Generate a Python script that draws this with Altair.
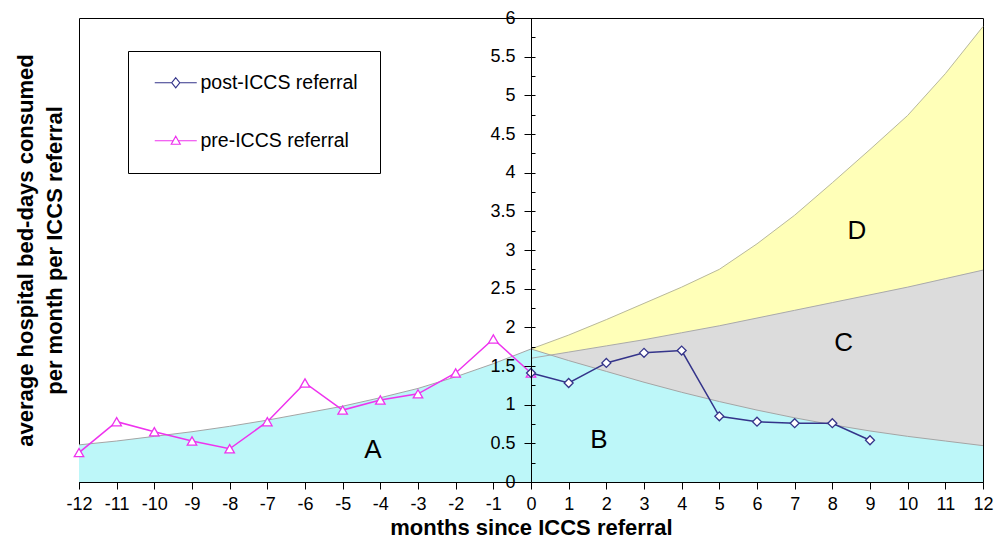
import altair as alt
import pandas as pd

# ---- data ----
pre_months = [-12, -11, -10, -9, -8, -7, -6, -5, -4, -3, -2, -1, 0]
pre_values = [0.38, 0.78, 0.65, 0.53, 0.43, 0.78, 1.28, 0.93, 1.06, 1.14, 1.41, 1.85, 1.41]

post_months = [0, 1, 2, 3, 4, 5, 6, 7, 8, 9]
post_values = [1.41, 1.28, 1.54, 1.67, 1.70, 0.85, 0.78, 0.76, 0.76, 0.54]

cyan_months = [-12, -11, -10, -9, -8, -7, -6, -5, -4, -3, -2, -1, 0,
               1, 2, 3, 4, 5, 6, 7, 8, 9, 10, 11, 12]
cyan_top = [0.48, 0.53, 0.59, 0.65, 0.72, 0.80, 0.89, 0.98, 1.09, 1.21, 1.36, 1.53, 1.72,
            1.57, 1.43, 1.29, 1.16, 1.04, 0.93, 0.83, 0.74, 0.66, 0.59, 0.53, 0.47]

band_months = [0, 1, 2, 3, 4, 5, 6, 7, 8, 9, 10, 11, 12]
grey_top = [1.60, 1.68, 1.76, 1.84, 1.93, 2.02, 2.12, 2.22, 2.32, 2.42, 2.52, 2.63, 2.74]
yellow_top = [1.72, 1.90, 2.10, 2.31, 2.52, 2.75, 3.08, 3.45, 3.87, 4.30, 4.74, 5.28, 5.89]

region_labels = ["A", "B", "C", "D"]
region_x = [-4.2, 1.8, 8.3, 8.65]
region_y = [0.41, 0.54, 1.80, 3.24]

series_names = ["post-ICCS referral", "pre-ICCS referral"]
series_colors = ["#34348A", "#EE33EE"]

x_tick_values = [-12, -11, -10, -9, -8, -7, -6, -5, -4, -3, -2, -1, 0,
                 1, 2, 3, 4, 5, 6, 7, 8, 9, 10, 11, 12]
y_tick_values = [0, 0.5, 1, 1.5, 2, 2.5, 3, 3.5, 4, 4.5, 5, 5.5, 6]
y_minor_values = [0.25, 0.5, 0.75, 1, 1.25, 1.5, 1.75, 2, 2.25, 2.5, 2.75, 3, 3.25,
                  3.5, 3.75, 4, 4.25, 4.5, 4.75, 5, 5.25, 5.5, 5.75]

# legend symbols: line with marker (custom SVG paths)
legend_paths = [
    "M-1,0L2.4,0M4,0L7.4,0M3.2,-1L4,0L3.2,1L2.4,0Z",
    "M-1,0L2.69,0M3.71,0L7.4,0M3.2,-0.9L4.1,0.7L2.3,0.7Z",
]

FONT = "Liberation Sans"

# ---- tables ----
pre_df = pd.DataFrame({"month": pre_months, "value": pre_values})
post_df = pd.DataFrame({"month": post_months, "value": post_values})
cyan_df = pd.DataFrame({"month": cyan_months, "top": cyan_top})
band_df = pd.DataFrame({"month": band_months, "grey": grey_top, "yellow": yellow_top})
lab_df = pd.DataFrame({"label": region_labels, "x": region_x, "y": region_y})
leg_df = pd.DataFrame({"series": series_names, "month": [0, 0], "value": [0, 0]})

xs = alt.Scale(domain=[-12, 12], nice=False)
ys = alt.Scale(domain=[0, 6], nice=False)

def X(field):
    return alt.X(field, type="quantitative", scale=xs, axis=None)

def Y(field):
    return alt.Y(field, type="quantitative", scale=ys, axis=None)

main_x_axis = alt.Axis(
    orient="bottom",
    values=x_tick_values, labelExpr="'' + datum.value", labelFont=FONT, labelFontSize=18,
    labelColor="black", labelPadding=6, labelFlush=False, labelOverlap=False,
    tickSize=7, tickColor="black", domainColor="black", grid=False,
    title="months since ICCS referral", titleFont=FONT, titleFontSize=22,
    titleFontWeight="bold", titleColor="black", titlePadding=4, zindex=1,
)
main_y_axis = alt.Axis(
    orient="left", offset=-452, values=y_tick_values, format="~g",
    labelFont=FONT, labelFontSize=18, labelColor="black", labelPadding=9,
    labelFlush=False, labelOverlap=False,
    tickSize=7, tickColor="black", domainColor="black", grid=False,
    title=["average hospital bed-days consumed", "per month per ICCS referral"],
    titleFont=FONT, titleFontSize=22, titleFontWeight="bold", titleColor="black",
    titleX=-494, titleY=232, titleLineHeight=29, titleBaseline="bottom", zindex=1,
)
minor_y_axis = alt.Axis(
    orient="right", offset=-452, values=y_minor_values, labels=False, domain=False,
    tickSize=4, tickColor="black", grid=False, title="", zindex=1,
)

yellow = alt.Chart(band_df).mark_area(color="#FFFFB8").encode(x=X("month"), y=Y("yellow"))
yellow_line = alt.Chart(band_df).mark_line(color="#B9B99C", strokeWidth=1).encode(x=X("month"), y=Y("yellow"))
grey = alt.Chart(band_df).mark_area(color="#DCDCDC").encode(x=X("month"), y=Y("grey"))
grey_line = alt.Chart(band_df).mark_line(color="#AAAAAA", strokeWidth=1).encode(x=X("month"), y=Y("grey"))
cyan = alt.Chart(cyan_df).mark_area(color="#BDF7F9").encode(x=X("month"), y=Y("top"))
cyan_line = alt.Chart(cyan_df).mark_line(color="#A5A5A5", strokeWidth=1).encode(x=X("month"), y=Y("top"))

labels = alt.Chart(lab_df).mark_text(
    font=FONT, fontSize=26, color="black", align="center", baseline="middle"
).encode(
    x=alt.X("x:Q", scale=xs, axis=main_x_axis),
    y=alt.Y("y:Q", scale=ys, axis=main_y_axis),
    text="label:N",
)

pre_line = alt.Chart(pre_df).mark_line(color=series_colors[1], strokeWidth=1.5).encode(
    x=X("month"), y=alt.Y("value:Q", scale=ys, axis=minor_y_axis)
)
pre_pts = alt.Chart(pre_df).mark_point(
    shape="triangle-up", filled=True, fill="white", stroke=series_colors[1],
    strokeWidth=1.3, size=90, opacity=1
).encode(x=X("month"), y=Y("value"))

post_line = alt.Chart(post_df).mark_line(color=series_colors[0], strokeWidth=1.5).encode(
    x=X("month"), y=Y("value")
)
post_pts = alt.Chart(post_df).mark_point(
    shape="diamond", filled=True, fill="white", stroke=series_colors[0],
    strokeWidth=1.3, size=80, opacity=1
).encode(x=X("month"), y=Y("value"))

leg = alt.Legend(
    title=None, orient="none", legendX=49, legendY=33, padding=22, rowPadding=37,
    labelFont=FONT, labelFontSize=19.5, labelColor="black", labelOffset=31,
    symbolSize=100, symbolStrokeWidth=1.2, strokeColor="black", fillColor="white",
)
legend_layer = alt.Chart(leg_df).transform_filter("false").mark_point(
    filled=False, size=100, strokeWidth=1.2, opacity=1
).encode(
    x=X("month"), y=Y("value"),
    color=alt.Color("series:N", scale=alt.Scale(domain=series_names, range=series_colors), legend=leg),
    shape=alt.Shape("series:N", scale=alt.Scale(domain=series_names, range=legend_paths), legend=leg),
)

chart = alt.layer(
    yellow, grey, cyan, yellow_line, grey_line, cyan_line, labels,
    pre_line, pre_pts, post_line, post_pts, legend_layer
).resolve_axis(x="independent", y="independent").properties(
    width=904, height=464,
    padding={"left": 71, "top": 10, "right": 12, "bottom": 59},
    autosize=alt.AutoSizeParams(type="none"),
).configure_view(stroke="black", strokeWidth=1)

chart.save("out.html", embed_options={"renderer": "svg", "actions": False})
